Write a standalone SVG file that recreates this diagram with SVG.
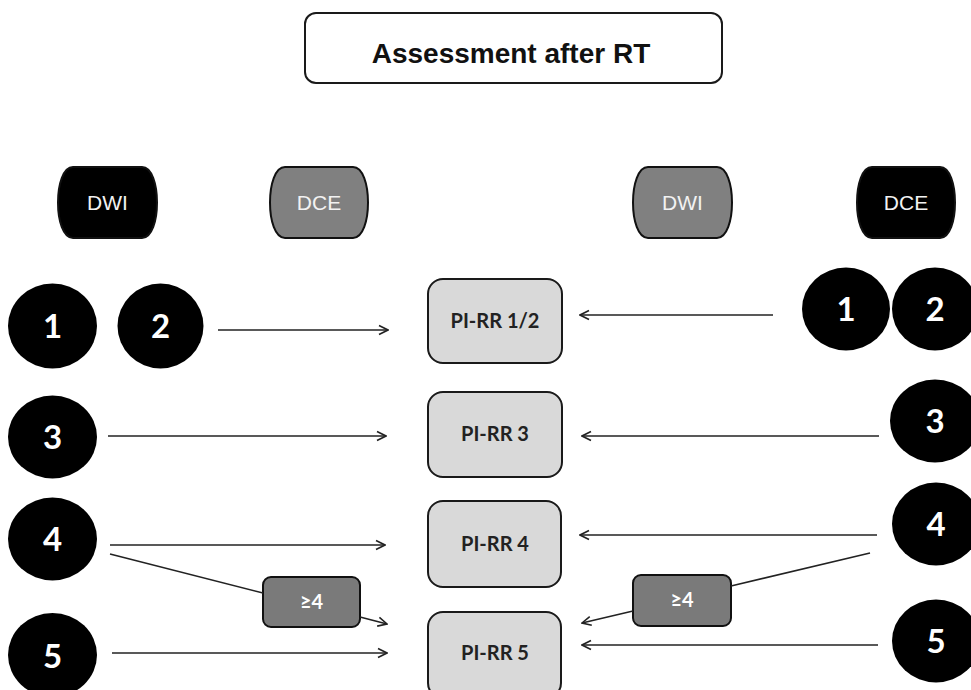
<svg xmlns="http://www.w3.org/2000/svg" width="971" height="690" viewBox="0 0 971 690">
<style>
.bg{fill:#ffffff}
.title{fill:#ffffff;stroke:#1a1a1a;stroke-width:2}
.tt{font-family:"Liberation Sans",Arial,sans-serif;font-weight:bold;font-size:28px;fill:#111;text-anchor:middle}
.pillB{fill:#000;stroke:#111;stroke-width:2}
.pillG{fill:#808080;stroke:#111;stroke-width:2}
.pt{font-family:"Liberation Sans",Arial,sans-serif;font-size:21px;fill:#f2f2f2;text-anchor:middle}
.circ{fill:#000}
.ct{font-family:Lato,"Open Sans",sans-serif;font-weight:bold;font-size:33px;fill:#fff;text-anchor:middle}
.box{fill:#d9d9d9;stroke:#1a1a1a;stroke-width:2}
.bt{font-family:Lato,"Open Sans",sans-serif;font-weight:bold;font-size:20px;fill:#222;text-anchor:middle}
.gbox{fill:#7a7a7a;stroke:#111;stroke-width:2}
.gt{font-family:Lato,"DejaVu Sans",sans-serif;font-weight:bold;font-size:20px;fill:#fff;text-anchor:middle}
.ln{stroke:#222;stroke-width:1.6;fill:none}
.ar{stroke:#222;stroke-width:1.6;fill:none;marker-end:url(#ah)}
</style>
<defs>
<marker id="ah" viewBox="0 0 12 12" refX="11" refY="6" markerWidth="12" markerHeight="12" markerUnits="userSpaceOnUse" orient="auto">
<path d="M2,1.5 L11,6 L2,10.5" fill="none" stroke="#222" stroke-width="1.6"/>
</marker>
</defs>
<rect class="bg" x="0" y="0" width="971" height="690"/>

<g id="title">
<rect class="title" x="305" y="13" width="417" height="70" rx="11"/>
<text class="tt" x="511" y="63">Assessment after RT</text>
</g>

<g id="dwi-left">
<path class="pillB" d="M73,167 H142 C162,167 162,238 142,238 H73 C53,238 53,167 73,167 Z"/>
<text class="pt" x="107.5" y="210">DWI</text>
</g>
<g id="dce-left">
<path class="pillG" d="M285,167 H353 C373,167 373,238 353,238 H285 C265,238 265,167 285,167 Z"/>
<text class="pt" x="319" y="210">DCE</text>
</g>
<g id="dwi-right">
<path class="pillG" d="M648,167 H717 C737,167 737,238 717,238 H648 C628,238 628,167 648,167 Z"/>
<text class="pt" x="682.5" y="210">DWI</text>
</g>
<g id="dce-right">
<path class="pillB" d="M872,167 H940 C960,167 960,238 940,238 H872 C852,238 852,167 872,167 Z"/>
<text class="pt" x="906" y="210">DCE</text>
</g>

<g id="l1"><ellipse class="circ" cx="52.5" cy="326" rx="44.5" ry="42.5"/><text class="ct" x="52.5" y="338">1</text></g>
<g id="l2"><ellipse class="circ" cx="160.5" cy="326" rx="43" ry="42.5"/><text class="ct" x="160.5" y="338">2</text></g>
<g id="l3"><ellipse class="circ" cx="52.5" cy="437" rx="44.5" ry="41.5"/><text class="ct" x="52.5" y="449">3</text></g>
<g id="l4"><ellipse class="circ" cx="52.5" cy="539" rx="44.5" ry="41.5"/><text class="ct" x="52.5" y="551">4</text></g>
<g id="l5"><ellipse class="circ" cx="52.5" cy="655" rx="44.5" ry="42"/><text class="ct" x="52.5" y="668">5</text></g>

<g id="r1"><ellipse class="circ" cx="846" cy="309" rx="44" ry="41.5"/><text class="ct" x="846" y="321">1</text></g>
<g id="r2"><ellipse class="circ" cx="935" cy="309" rx="43" ry="41.5"/><text class="ct" x="935" y="321">2</text></g>
<g id="r3"><ellipse class="circ" cx="935" cy="421" rx="45" ry="41.5"/><text class="ct" x="935" y="433">3</text></g>
<g id="r4"><ellipse class="circ" cx="936" cy="524" rx="44" ry="41.5"/><text class="ct" x="936" y="536">4</text></g>
<g id="r5"><ellipse class="circ" cx="936" cy="641" rx="44" ry="41.5"/><text class="ct" x="936" y="653">5</text></g>

<g id="pirr12"><rect class="box" x="428" y="279" width="134" height="84" rx="15"/><text class="bt" x="495" y="328">PI-RR 1/2</text></g>
<g id="pirr3"><rect class="box" x="428" y="392" width="134" height="85" rx="15"/><text class="bt" x="495" y="441">PI-RR 3</text></g>
<g id="pirr4"><rect class="box" x="428" y="501" width="133" height="86" rx="15"/><text class="bt" x="495" y="551">PI-RR 4</text></g>
<g id="pirr5"><rect class="box" x="428" y="612" width="133" height="86" rx="15"/><text class="bt" x="495" y="660">PI-RR 5</text></g>

<g id="ge4-left"><rect class="gbox" x="263" y="577" width="97" height="50" rx="8"/><text class="gt" x="311.5" y="609">≥4</text></g>
<g id="ge4-right"><rect class="gbox" x="633" y="575" width="98" height="51" rx="8"/><text class="gt" x="682" y="607">≥4</text></g>

<g id="connectors">
<line class="ar" x1="218" y1="330" x2="388" y2="330"/>
<line class="ar" x1="108" y1="436" x2="386" y2="436"/>
<line class="ar" x1="110" y1="545" x2="385" y2="545"/>
<line class="ln" x1="110" y1="554" x2="263" y2="593"/>
<line class="ar" x1="360" y1="617" x2="387" y2="624"/>
<line class="ar" x1="112" y1="653" x2="387" y2="653"/>

<line class="ar" x1="773" y1="315" x2="580" y2="315"/>
<line class="ar" x1="879" y1="436" x2="582" y2="436"/>
<line class="ar" x1="877" y1="535" x2="580" y2="535"/>
<line class="ln" x1="870" y1="553" x2="731" y2="586"/>
<line class="ar" x1="633" y1="611" x2="582" y2="623"/>
<line class="ar" x1="878" y1="645" x2="582" y2="645"/>
</g>
</svg>
